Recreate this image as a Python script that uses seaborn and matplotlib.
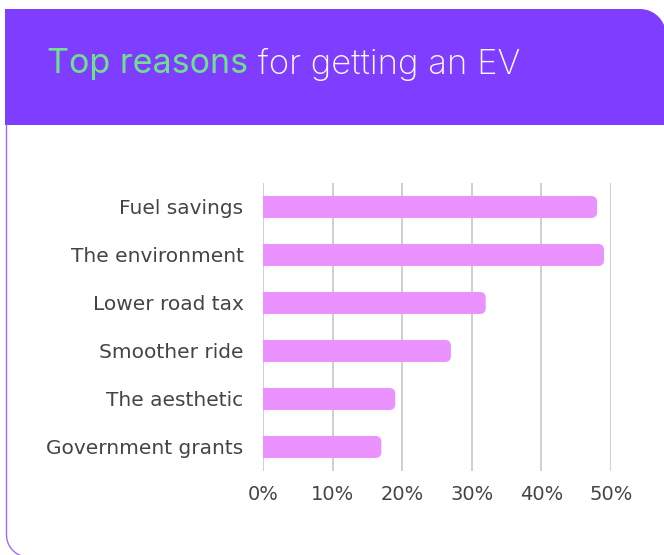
import matplotlib
matplotlib.use("Agg")
import matplotlib.pyplot as plt
from matplotlib.patches import FancyBboxPatch, PathPatch
from matplotlib.path import Path
from matplotlib.ticker import FuncFormatter
import numpy as np
import pandas as pd
import seaborn as sns

# Survey results
reasons = ["Fuel savings", "The environment", "Lower road tax",
           "Smoother ride", "The aesthetic", "Government grants"]
shares = [48, 49, 32, 27, 19, 17]
x_ticks = [0, 10, 20, 30, 40, 50]

title_highlight = "Top reasons"
title_rest = " for getting an EV"

HEADER = "#7F3DFF"
GREEN = "#6FE08E"
BAR = "#EA92FD"
GRID = "#CCCCCC"
TEXT = "#444444"

sns.set_theme(style="white")
plt.rcParams["font.family"] = ["DejaVu Sans"]

W, H, DPI = 664, 555, 100
fig = plt.figure(figsize=(W / DPI, H / DPI), dpi=DPI)
fig.patch.set_facecolor("white")


def px(x, y):
    """pixel (top-left origin) -> inches for dpi_scale_trans"""
    return (x / DPI, (H - y) / DPI)


# Header band with rounded top-right corner
r = 26
left, top, bottom, right = 5, 9, 125, W + 2
verts = [px(left, bottom), px(left, top), px(right - r, top)]
for a in np.linspace(90, 0, 12):
    t = np.radians(a)
    verts.append(px(right - r + r * np.cos(t), top + r - r * np.sin(t)))
verts += [px(right, bottom), px(left, bottom)]
codes = [Path.MOVETO] + [Path.LINETO] * (len(verts) - 2) + [Path.CLOSEPOLY]
fig.patches.append(PathPatch(Path(verts, codes), transform=fig.dpi_scale_trans,
                             facecolor=HEADER, edgecolor="none", zorder=0))

# Card outline on the left with rounded bottom corner
rb = 22
outline = [px(6.5, bottom)]
outline.append(px(6.5, H - rb + 2))
for a in np.linspace(180, 250, 10):
    t = np.radians(a)
    outline.append(px(6.5 + rb + rb * np.cos(t), H - rb + 2 - rb * np.sin(t)))
fig.lines.append(plt.Line2D([p[0] for p in outline], [p[1] for p in outline],
                            transform=fig.dpi_scale_trans, color="#9A6BFF", lw=1.0))

# Title: highlighted phrase followed by the rest
title_font = ["Inter", "DejaVu Sans"]
t1 = fig.text(47 / W, 1 - 64 / H, title_highlight, color=GREEN, fontsize=24.5,
              va="center", ha="left", fontweight="normal", family=title_font)
fig.canvas.draw()
bb = t1.get_window_extent(fig.canvas.get_renderer())
fig.text(bb.x1 / W, 1 - 64 / H, title_rest, color="white", fontsize=25,
         va="center", ha="left", fontweight="light", family=title_font)

# Bar chart
ax = fig.add_axes([263 / W, 1 - 471 / H, (611 - 263) / W, (471 - 183) / H])
df = pd.DataFrame({"reason": reasons, "share": shares})
sns.barplot(data=df, x="share", y="reason", orient="h", color=BAR,
            width=0.46, ax=ax, saturation=1)

ax.set_xlim(0, 50)
ax.set_ylim(5.5, -0.5)

# Replace plain rectangles with rounded-end bars
px_per_x = (611 - 263) / 50
px_per_y = 48.0
rad_px = 6
for p in list(ax.patches):
    x0, y0 = p.get_x(), p.get_y()
    w, h = p.get_width(), p.get_height()
    p.set_visible(False)
    ext = rad_px / px_per_x
    fb = FancyBboxPatch((x0 - ext * 2, y0), w + ext * 2, h,
                        boxstyle=f"round,pad=0,rounding_size={rad_px / px_per_x}",
                        mutation_aspect=px_per_x / px_per_y,
                        facecolor=BAR, edgecolor="none", zorder=3)
    ax.add_patch(fb)

ax.set_xticks(x_ticks)
ax.xaxis.set_major_formatter(FuncFormatter(lambda v, _: f"{v:.0f}%"))
ax.grid(axis="x", color=GRID, lw=1.3)
ax.grid(axis="y", visible=False)
ax.set_axisbelow(True)
for s in ax.spines.values():
    s.set_visible(False)
ax.set_xlabel("")
ax.set_ylabel("")
ax.tick_params(axis="x", length=0, pad=10, labelsize=14, labelcolor=TEXT)
ax.tick_params(axis="y", length=0, pad=14, labelsize=14.5, labelcolor=TEXT)
ax.set_facecolor("none")

fig.savefig("out.png", dpi=DPI)
